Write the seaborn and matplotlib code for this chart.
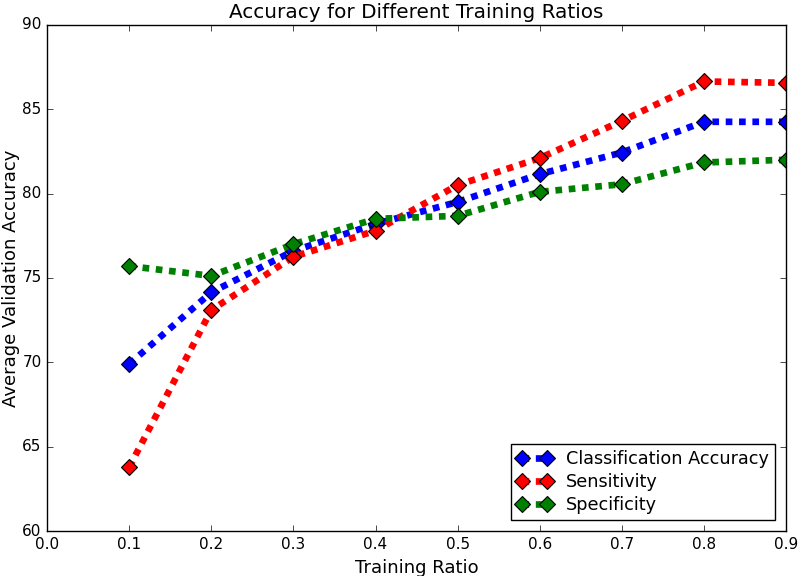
import matplotlib
matplotlib.use("Agg")
import matplotlib.pyplot as plt
import seaborn as sns
import pandas as pd

ratios = [0.1, 0.2, 0.3, 0.4, 0.5, 0.6, 0.7, 0.8, 0.9]
classification = [69.9, 74.15, 76.6, 78.2, 79.5, 81.15, 82.43, 84.25, 84.25]
sensitivity = [63.8, 73.1, 76.25, 77.8, 80.5, 82.1, 84.3, 86.64, 86.56]
specificity = [75.7, 75.12, 77.0, 78.5, 78.68, 80.1, 80.55, 81.84, 82.0]
series_names = ["Classification Accuracy", "Sensitivity", "Specificity"]
series_colors = ["#0000ff", "#ff0000", "#008000"]

plt.style.use("classic")
plt.rcParams["font.family"] = ["DejaVu Sans"]

fig = plt.figure(figsize=(8, 5.76), dpi=100, facecolor="white")
ax = fig.add_axes([0.059, 0.078, 0.9235, 0.879])

lw = 4.8
for name, vals, col in zip(series_names, [classification, sensitivity, specificity], series_colors):
    df = pd.DataFrame({"ratio": ratios, "acc": vals})
    sns.lineplot(data=df, x="ratio", y="acc", ax=ax, color=col,
                 linestyle=(0, (lw, lw)), linewidth=lw, marker="D", markersize=8,
                 markeredgecolor="black", markeredgewidth=0.8, label=name)

ax.set_xlim(0.0, 0.9)
ax.set_ylim(60, 90)
ax.set_xticks([0.0, 0.1, 0.2, 0.3, 0.4, 0.5, 0.6, 0.7, 0.8, 0.9])
ax.set_yticks([60, 65, 70, 75, 80, 85, 90])
ax.tick_params(labelsize=11, direction="in", top=True, right=True)
ax.set_xlabel("Training Ratio", fontsize=13)
ax.set_ylabel("Average Validation Accuracy", fontsize=13)
ax.yaxis.set_label_coords(-0.037, 0.5)
ax.set_title("Accuracy for Different Training Ratios", fontsize=14.4)
ax.set_facecolor("white")
leg = ax.legend(loc="lower right", numpoints=2, fontsize=12.7, frameon=True,
                fancybox=False, borderaxespad=0.6, handlelength=2.0,
                labelspacing=0.3, borderpad=0.35)

fig.savefig("out.png", dpi=100, facecolor="white")
